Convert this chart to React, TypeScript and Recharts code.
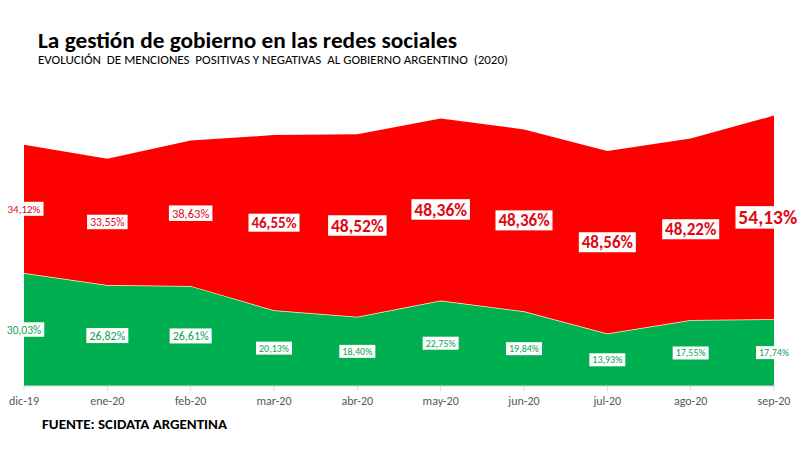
import { ComposedChart, Area, Line, XAxis, YAxis } from 'recharts';

/* ─── Data ────────────────────────────────────────────────────────────────── */

const months = ['dic-19', 'ene-20', 'feb-20', 'mar-20', 'abr-20', 'may-20', 'jun-20', 'jul-20', 'ago-20', 'sep-20'];
const positivas = [30.03, 26.82, 26.61, 20.13, 18.40, 22.75, 19.84, 13.93, 17.55, 17.74];
const negativas = [34.12, 33.55, 38.63, 46.55, 48.52, 48.36, 48.36, 48.56, 48.22, 54.13];

/* ─── Label styling (font size per point, as in the original) ─────────────── */

const negFont = [11, 11.5, 12.5, 15, 17.5, 17.5, 17, 17, 17, 19.5];
const posFont = [11.5, 12, 12, 10, 10, 10, 10, 10, 10, 10];

const W = 800;
const H = 450;
const FONT = 'Carlito, Calibri, Lato, sans-serif';
const RED = '#ff0000';
const GREEN = '#00b050';

const data = months.map((m, i) => ({
  m,
  pos: positivas[i],
  neg: negativas[i],
  posMid: positivas[i] / 2,
  negMid: positivas[i] + negativas[i] / 2,
}));

const fmt = (v: number) => `${v.toFixed(2).replace('.', ',')}%`;

function bandLabel(values: number[], sizes: number[], color: string) {
  return (props: any) => {
    const { x, y, index } = props;
    const fs = sizes[index];
    const text = fmt(values[index]);
    const w = text.length * fs * 0.5 + 6;
    const h = fs + 3;
    let cx = x;
    if (cx + w / 2 > W) cx = W - w / 2;
    return (
      <g key={`lbl-${color}-${index}`}>
        <rect x={cx - w / 2} y={y - h / 2} width={w} height={h} fill="#fff" />
        <text x={cx} y={y} dy="0.35em" textAnchor="middle" fill={color}
          fontSize={fs} fontWeight={fs >= 14 ? 700 : 400} fontFamily={FONT}>
          {text}
        </text>
      </g>
    );
  };
}

export default function App() {
  return (
    <div style={{ position: 'absolute', left: 0, top: 0, width: W, height: H, background: '#fff' }}>
      <ComposedChart width={W} height={H} data={data}
        margin={{ top: 85, right: 26, bottom: 34, left: 24 }}>
        <XAxis dataKey="m" scale="point" height={30}
          tick={{ fill: '#595959', fontSize: 12, fontFamily: FONT }}
          tickMargin={5} tickSize={5}
          axisLine={{ stroke: '#d9d9d9' }} tickLine={{ stroke: '#d9d9d9' }} />
        <YAxis hide domain={[0, 80]} allowDataOverflow />
        <Area dataKey="pos" stackId="a" type="linear" fill={GREEN} fillOpacity={1}
          stroke="#fff2cc" strokeWidth={1.5} isAnimationActive={false} />
        <Area dataKey="neg" stackId="a" type="linear" fill={RED} fillOpacity={1}
          stroke="none" isAnimationActive={false} />
        <Line dataKey="posMid" stroke="none" dot={false} activeDot={false} legendType="none"
          isAnimationActive={false} label={bandLabel(positivas, posFont, '#0fa356')} />
        <Line dataKey="negMid" stroke="none" dot={false} activeDot={false} legendType="none"
          isAnimationActive={false} label={bandLabel(negativas, negFont, '#dc0a14')} />
      </ComposedChart>
      <svg width={W} height={H} style={{ position: 'absolute', left: 0, top: 0, pointerEvents: 'none' }}>
        <text x={38} y={48} fontSize={22} fontWeight={700} fontFamily={FONT} fill="#000"
          textLength={419} lengthAdjust="spacingAndGlyphs">
          La gestión de gobierno en las redes sociales
        </text>
        <text x={38} y={64} fontSize={11.5} fontFamily={FONT} fill="#000" xmlSpace="preserve"
          textLength={470} lengthAdjust="spacingAndGlyphs">
          EVOLUCIÓN  DE MENCIONES  POSITIVAS Y NEGATIVAS  AL GOBIERNO ARGENTINO  (2020)
        </text>
        <text x={42} y={429} fontSize={14.5} fontWeight={700} fontFamily={FONT} fill="#000"
          textLength={185} lengthAdjust="spacingAndGlyphs">
          FUENTE: SCIDATA ARGENTINA
        </text>
      </svg>
    </div>
  );
}
